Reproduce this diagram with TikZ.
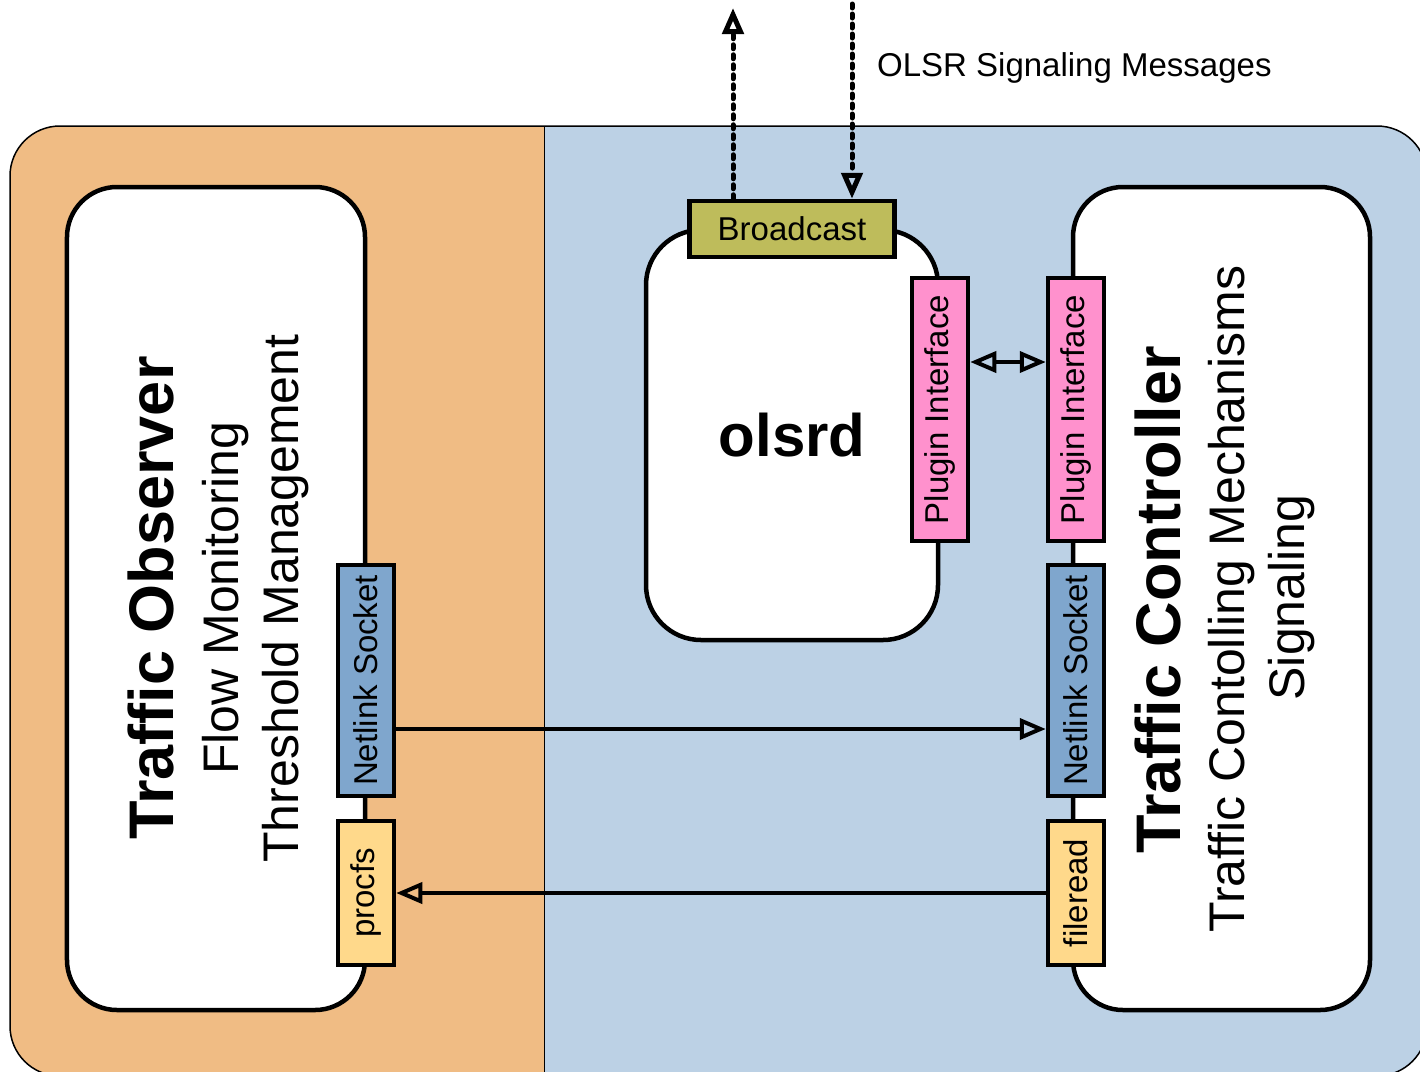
\documentclass[tikz,border=0pt]{standalone}
\usepackage{fontspec}
\setmainfont{Liberation Sans}
\usetikzlibrary{arrows.meta}

\definecolor{obsorange}{RGB}{240,188,132}
\definecolor{netblue}{RGB}{188,209,229}
\definecolor{sockblue}{RGB}{127,166,205}
\definecolor{procyellow}{RGB}{255,217,139}
\definecolor{bcolive}{RGB}{190,188,91}
\definecolor{plugpink}{RGB}{255,145,205}

\begin{document}
\begin{tikzpicture}[x=1bp, y=-1bp,
  >={Triangle[open, length=26bp, width=21bp]},
  box/.style={draw, line width=4.5bp, fill=white, rounded corners=50bp, inner sep=0pt},
  port/.style={draw, line width=4.5bp, inner sep=0pt, minimum width=56bp,
    font=\fontsize{33bp}{38bp}\selectfont},
  flow/.style={line width=4bp},
  msg/.style={line width=5bp, line cap=round, dash pattern=on 4bp off 6bp},
  title/.style={rotate=90, anchor=base, inner sep=0pt, font=\fontsize{63bp}{70bp}\selectfont\bfseries},
  sub/.style={rotate=90, anchor=base, inner sep=0pt, font=\fontsize{50bp}{56bp}\selectfont}]
  \path[use as bounding box] (0,0) rectangle (1420,1071);

  \coordinate (out) at (733,8);
  \coordinate (in) at (852,4);
  \coordinate (plugY) at (0,362);
  \coordinate (nlY) at (0,729);

  \begin{scope}
    \clip (0,0) rectangle (1420,1071);
    \begin{scope}
      \clip[rounded corners=50bp] (10,126) rectangle (1427,1076);
      \fill[obsorange] (10,126) rectangle (544,1076);
      \fill[netblue] (544,126) rectangle (1427,1076);
    \end{scope}
    \draw[line width=1.5bp, rounded corners=50bp] (10,126) rectangle (1427,1076);
    \draw[line width=1bp] (544,126) -- (544,1076);
  \end{scope}

  \node[box, minimum width=298bp, minimum height=823bp] (obs) at (216,598.5) {};
  \node[box, minimum width=297bp, minimum height=823bp] (ctl) at (1221.5,598.5) {};
  \node[box, rounded corners=55bp, minimum width=292bp, minimum height=410bp,
    font=\fontsize{60bp}{66bp}\selectfont\bfseries] (olsrd) at (792,435) {olsrd};

  \node[port, fill=bcolive, minimum width=205bp, minimum height=56bp] (bcast) at (792,229) {Broadcast};
  \node[port, fill=plugpink, minimum height=263bp] (piL) at (940,409.5) {\rotatebox{90}{Plugin Interface}};
  \node[port, fill=plugpink, minimum height=263bp] (piR) at (1076,409.5) {\rotatebox{90}{Plugin Interface}};
  \node[port, fill=sockblue, minimum height=231bp] (nlL) at (366,680.5) {\rotatebox{90}{Netlink Socket}};
  \node[port, fill=procyellow, minimum height=144bp] (procfs) at (366,893) {\rotatebox{90}{procfs}};
  \node[port, fill=sockblue, minimum height=231bp] (nlR) at (1076,680.5) {\rotatebox{90}{Netlink Socket}};
  \node[port, fill=procyellow, minimum height=144bp] (fileread) at (1076,893) {\rotatebox{90}{fileread}};

  \node[title] (obsT) at (173,598) {Traffic Observer};
  \node[sub] (obsA) at (238,598.5) {Flow Monitoring};
  \node[sub] (obsB) at (298,598.5) {Threshold Management};
  \node[title] (ctlT) at (1180,600) {Traffic Controller};
  \node[sub] (ctlA) at (1244,599) {Traffic Contolling Mechanisms};
  \node[sub] (ctlB) at (1304,597.5) {Signaling};
  \node[anchor=base west, inner sep=0pt, font=\fontsize{33bp}{38bp}\selectfont] (olsrMsg) at (877,76) {OLSR Signaling Messages};

  \draw[msg, ->] (bcast.north -| out) -- (out);
  \draw[msg, ->] (in) -- (bcast.north -| in);
  \draw[flow, <->] (piL.east |- plugY) -- (piR.west |- plugY);
  \draw[flow, ->] (nlL.east |- nlY) -- (nlR.west |- nlY);
  \draw[flow, ->] (fileread.west) -- (procfs.east);
\end{tikzpicture}
\end{document}
